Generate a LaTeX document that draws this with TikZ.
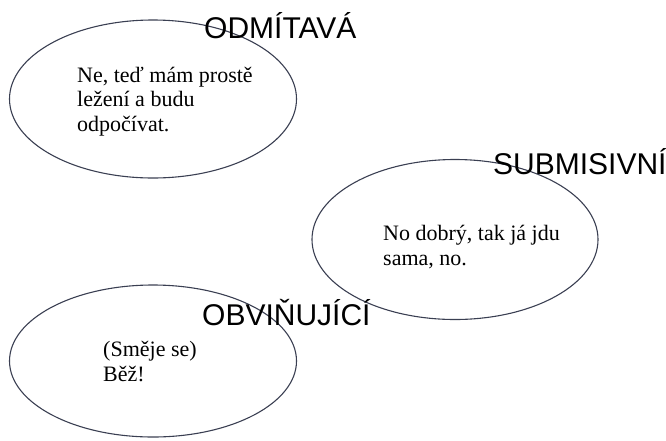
\documentclass[tikz,border=0pt]{standalone}
\usepackage{fontspec}
\setmainfont{Liberation Serif}
\newfontfamily\labelfont{Liberation Sans}
\usetikzlibrary{shapes.geometric}
\definecolor{rim}{HTML}{3A3F52}
\begin{document}
\begin{tikzpicture}[x=1pt,y=-1pt,
  bubble/.style={ellipse, draw=rim, line width=1.1pt, inner sep=0pt},
  % base anchor of a multi-line node sits on its last line
  speech/.style={anchor=base west, align=left, inner sep=0pt,
    font=\fontsize{22}{24.5}\selectfont},
  mood/.style={anchor=base west, inner sep=0pt,
    font=\labelfont\fontsize{30}{30}\selectfont}]
\useasboundingbox (0,0) rectangle (666,440);
% three speech bubbles
\node[bubble, minimum width=287, minimum height=158] (b1) at (153,99) {};
\node[bubble, minimum width=286, minimum height=160] (b2) at (455,239.5) {};
\node[bubble, minimum width=287, minimum height=152] (b3) at (153,361) {};
% what is said
\node[speech] (t1) at (77,131) {Ne, teď mám prostě\\ležení a budu\\odpočívat.};
\node[speech] (t2) at (383,265) {No dobrý, tak já jdu\\sama, no.};
\node[speech] (t3) at (103,381) {(Směje se)\\Běž!};
% response types
\node[mood] (m1) at (204,38) {ODMÍTAVÁ};
\node[mood] (m2) at (493,174) {SUBMISIVNÍ};
\node[mood] (m3) at (202,325) {OBVIŇUJÍCÍ};
\end{tikzpicture}
\end{document}
